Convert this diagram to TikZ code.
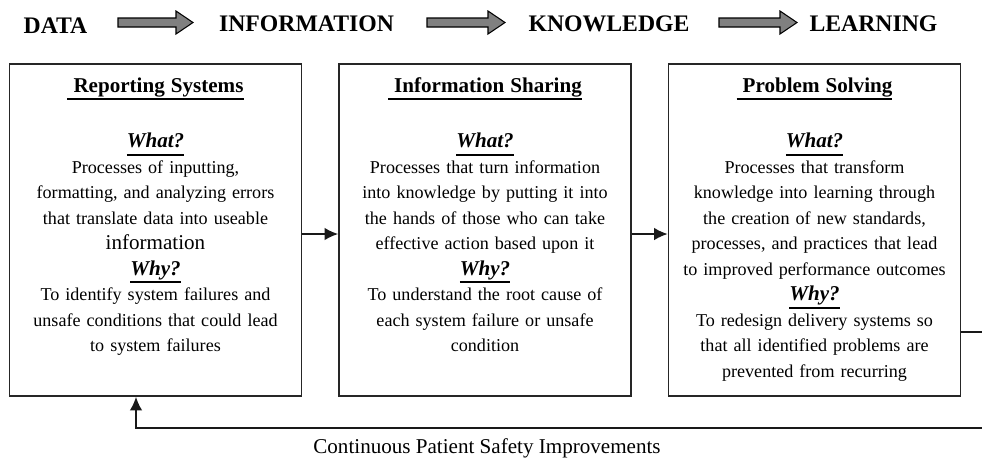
\documentclass[tikz,border=0pt]{standalone}
\usepackage{fontspec}
\setmainfont{Liberation Serif}
\usetikzlibrary{arrows.meta}

\newsavebox{\ulbox}
\newcommand{\thickul}[1]{\leavevmode\sbox{\ulbox}{#1}\rlap{\rule[-4.4pt]{\wd\ulbox}{1.1pt}}\usebox{\ulbox}}
\newcommand{\stagehead}[1]{{\fontsize{12}{14.5}\selectfont\bfseries\thickul{\ #1}}}
\newcommand{\stageask}[1]{{\fontsize{12}{14.5}\selectfont\bfseries\itshape\thickul{#1}}}

\begin{document}
\begin{tikzpicture}[x=0.02cm, y=-0.02cm, >={Latex[length=2.7mm,width=2.5mm]}]
    \tikzstyle{stage}=[draw=black!85, line width=1pt, rectangle, minimum width=5.84cm, minimum height=6.64cm, inner sep=0pt]
    \tikzstyle{stage text}=[text width=5.7cm, align=center, anchor=base, inner sep=0pt, font=\fontsize{10.3}{14.5}\selectfont]
    \tikzstyle{flow word}=[anchor=base, inner sep=0pt, font=\fontsize{13.5}{16}\selectfont\bfseries]
    \tikzstyle{flow arrow}=[draw=black, fill=black!50, line width=0.6pt]
    \tikzstyle{link}=[->, draw=black!90, line width=0.9pt]
    \def\gap{0.61cm}

    \useasboundingbox (0,0) rectangle (982,458);

    % Draw the words along the top with the grey arrows between them
    \foreach \name/\x/\y/\word in {data/55.5/33/DATA, info/306.5/31/INFORMATION, know/609/31/KNOWLEDGE, learn/873.5/31/LEARNING}
        \node[flow word] (W-\name) at (\x,\y) {\word};
    \foreach \xa/\xb in {118/193, 427/505, 719/797}
        \draw[flow arrow] (\xa,18) -- (\xb-17,18) -- (\xb-17,11) -- (\xb,22.5)
            -- (\xb-17,34) -- (\xb-17,27) -- (\xa,27) -- cycle;

    % Draw the three stage boxes
    \foreach \name/\x in {1/155.5, 2/485, 3/814.5}
        \node[stage] (S-\name) at (\x,230) {};

    % Fill the boxes
    \node[stage text] (T-1) at (155.5,92) {\stagehead{Reporting Systems}\\[\gap]
        \stageask{What?}\\
        Processes of inputting,\\
        formatting, and analyzing errors\\
        that translate data into useable\\
        {\fontsize{12}{14.5}\selectfont information}\\
        \stageask{Why?}\\
        To identify system failures and\\
        unsafe conditions that could lead\\
        to system failures};
    \node[stage text] (T-2) at (485,92) {\stagehead{Information Sharing}\\[\gap]
        \stageask{What?}\\
        Processes that turn information\\
        into knowledge by putting it into\\
        the hands of those who can take\\
        effective action based upon it\\
        \stageask{Why?}\\
        To understand the root cause of\\
        each system failure or unsafe\\
        condition};
    \node[stage text] (T-3) at (814.5,92) {\stagehead{Problem Solving}\\[\gap]
        \stageask{What?}\\
        Processes that transform\\
        knowledge into learning through\\
        the creation of new standards,\\
        processes, and practices that lead\\
        to improved performance outcomes\\
        \stageask{Why?}\\
        To redesign delivery systems so\\
        that all identified problems are\\
        prevented from recurring};

    % Connect the boxes
    \foreach \source/\dest in {1/2, 2/3}
        \draw[link] ([yshift=-0.08cm]S-\source.east) -- ([yshift=-0.08cm]S-\dest.west);

    % Feed back from the last box to the first
    \coordinate (loop) at (1000,428);
    \draw[link] ([yshift=-2.04cm]S-3.east) -| (loop) -| ([xshift=-0.39cm]S-1.south);
    \node[anchor=base, inner sep=0pt, font=\fontsize{12}{14}\selectfont] (cpsi) at (487,453) {Continuous Patient Safety Improvements};

\end{tikzpicture}
\end{document}
